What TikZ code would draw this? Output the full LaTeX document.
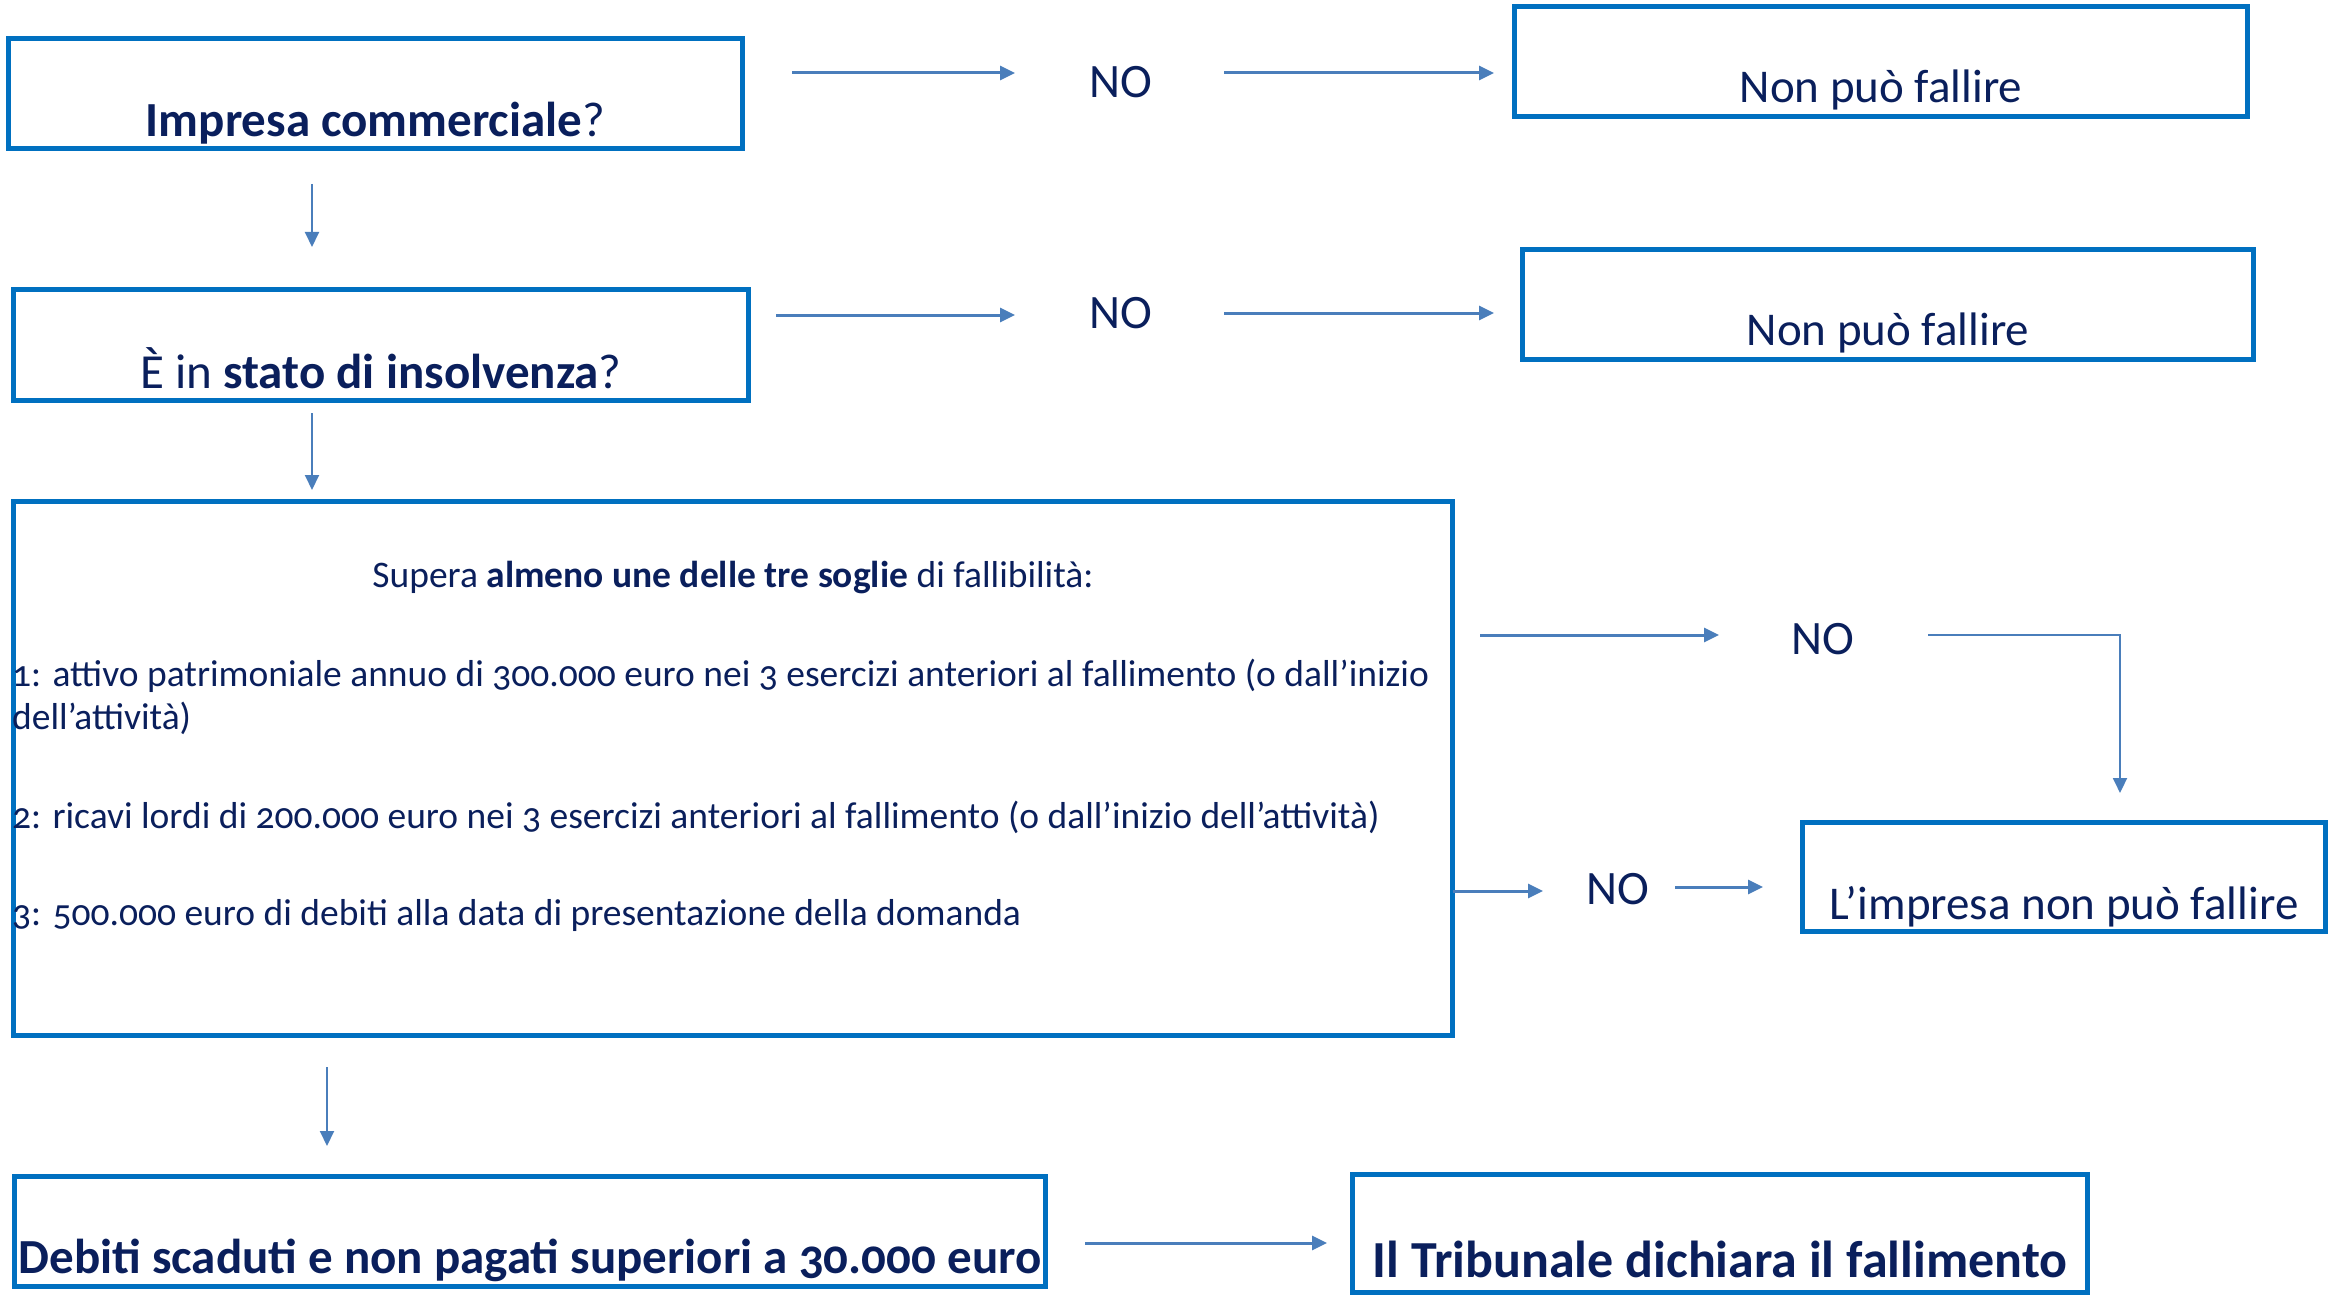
\documentclass[tikz,border=0pt]{standalone}
\usepackage{fontspec}
\setmainfont{Carlito}[Numbers=OldStyle]
\usetikzlibrary{arrows.meta}
\definecolor{boxblue}{HTML}{0070C0}
\definecolor{arrblue}{HTML}{4A7EBB}
\definecolor{navy}{HTML}{0A1F5C}
\tikzset{
  box/.style={draw=boxblue, line width=5pt, inner sep=0pt, outer sep=0pt, text=navy, align=center},
  big/.style={font=\fontsize{49}{58}\selectfont},
  small/.style={font=\fontsize{37.5}{43}\selectfont, text=navy, inner sep=0pt},
  nolbl/.style={font=\fontsize{48}{56}\selectfont, text=navy, inner sep=0pt, anchor=base},
  arr/.style={draw=arrblue, line width=3pt, -{Triangle[length=15pt,width=14pt]}},
  varr/.style={draw=arrblue, line width=2pt, -{Triangle[length=15pt,width=14pt]}},
}
\begin{document}
\begin{tikzpicture}[x=1pt,y=-1pt]
\useasboundingbox (0,0) rectangle (2331,1297);
% boxes
\node[box, big, minimum width=734pt, minimum height=110pt, text depth=11.5pt, text height=98.5pt] (b1) at (375.5,93.5) {\textbf{Impresa commerciale}?};
\node[box, big, minimum width=735pt, minimum height=111pt, text depth=12.5pt, text height=98.5pt] (b2) at (381,345) {È in \textbf{stato di insolvenza}?};
\node[box, big, minimum width=733pt, minimum height=110pt, text depth=13.5pt, text height=96.5pt, font=\fontsize{47}{56}\selectfont] (n1) at (1881,61.5) {Non può fallire};
\node[box, big, minimum width=731pt, minimum height=110pt, text depth=14.5pt, text height=95.5pt, font=\fontsize{47}{56}\selectfont] (n2) at (1888,304.5) {Non può fallire};
\node[box, minimum width=1439pt, minimum height=534pt] (bg) at (733,768.5) {};
\node[box, big, minimum width=523pt, minimum height=109pt, text depth=12.5pt, text height=96.5pt, font=\fontsize{47}{56}\selectfont] (li) at (2064,877) {L’impresa non può fallire};
\node[box, big, minimum width=1031pt, minimum height=110pt, text depth=13.5pt, text height=96.5pt] (db) at (530,1231.5) {\textbf{Debiti scaduti e non pagati superiori a 30.000 euro}};
\node[box, big, minimum width=735pt, minimum height=118pt, text depth=15.5pt, text height=102.5pt, font=\fontsize{52}{60}\selectfont] (tr) at (1720,1233.5) {\textbf{Il Tribunale dichiara il fallimento}};
% texts in big box
\node[small, anchor=base] (t0) at (733,587) {Supera \textbf{almeno une delle tre soglie} di fallibilità:};
\node[small, anchor=base west, align=left] (t1) at (12,729) {1: attivo patrimoniale annuo di 300.000 euro nei 3 esercizi anteriori al fallimento (o dall’inizio\\dell’attività)};
\node[small, anchor=base west] (t2) at (12,828) {2: ricavi lordi di 200.000 euro nei 3 esercizi anteriori al fallimento (o dall’inizio dell’attività)};
\node[small, anchor=base west] (t3) at (12,925) {3: 500.000 euro di debiti alla data di presentazione della domanda};
% NO labels
\node[nolbl] (no1) at (1121,98) {NO};
\node[nolbl] (no2) at (1121,328) {NO};
\node[nolbl] (no3) at (1823,654) {NO};
\node[nolbl] (no4) at (1618,904) {NO};
% connector ends
\coordinate (a1s) at (792,73);  \coordinate (a1e) at (1015,73);
\coordinate (a2s) at (1224,73); \coordinate (a2e) at (1494,73);
\coordinate (a3s) at (776,315); \coordinate (a3e) at (1015,315);
\coordinate (a4s) at (1224,313); \coordinate (a4e) at (1494,313);
\coordinate (v1s) at (312,184); \coordinate (v1e) at (312,247);
\coordinate (v2s) at (312,413); \coordinate (v2e) at (312,490);
\coordinate (a5s) at (1480,635); \coordinate (a5e) at (1719,635);
\coordinate (a6s) at (1928,635); \coordinate (a6e) at (2120,793);
\coordinate (a7e) at (1543,891);
\coordinate (a8s) at (1675,887); \coordinate (a8e) at (1763,887);
\coordinate (v3s) at (327,1067); \coordinate (v3e) at (327,1146);
\coordinate (a9s) at (1085,1243); \coordinate (a9e) at (1327,1243);
% connectors
\draw[arr] (a1s) -- (a1e);
\draw[arr] (a2s) -- (a2e);
\draw[arr] (a3s) -- (a3e);
\draw[arr] (a4s) -- (a4e);
\draw[varr] (v1s) -- (v1e);
\draw[varr] (v2s) -- (v2e);
\draw[arr] (a5s) -- (a5e);
\draw[varr] (a6s) -| (a6e);
\draw[arr] (bg.east |- a7e) -- (a7e);
\draw[arr] (a8s) -- (a8e);
\draw[varr] (v3s) -- (v3e);
\draw[arr] (a9s) -- (a9e);
\end{tikzpicture}
\end{document}
